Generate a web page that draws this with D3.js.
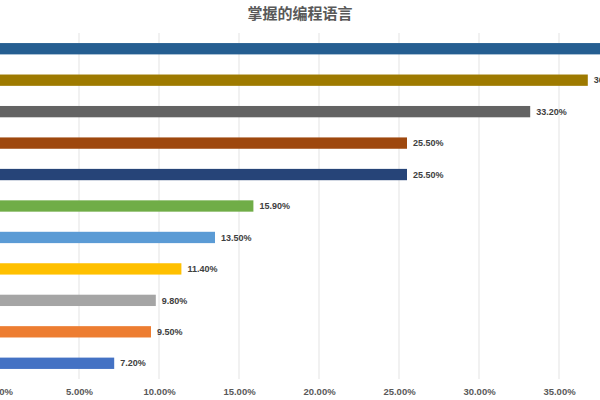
<!DOCTYPE html>
<html><head><meta charset="utf-8">
<script src="https://cdn.jsdelivr.net/npm/d3@7"></script>
<style>html,body{margin:0;padding:0;background:#fff;overflow:hidden}svg{display:block}</style>
</head><body>
<script>
const title = "掌握的编程语言";
// categories listed bottom to top (as in the original chart)
const categories = ["Swift","Ruby","Go","Objective-C","PHP","C#","JavaScript","Python","C++","C","Java"];
const values = [7.2, 9.5, 9.8, 11.4, 13.5, 15.9, 25.5, 25.5, 33.2, 36.8, 45.0];
const colors = ["#4472C4","#ED7D31","#A5A5A5","#FFC000","#5B9BD5","#70AD47","#264478","#9E480E","#636363","#9E7A00","#255E91"];
const tickValues = [0,5,10,15,20,25,30,35];

const W = 600, H = 400;
const svg = d3.select("body").append("svg").attr("width", W).attr("height", H);

const x = d3.scaleLinear().domain([0, 5]).range([-1, 79]);
const y = d3.scaleBand().domain(categories.slice().reverse()).range([33, 379]).paddingInner(0.64).paddingOuter(0.32);

svg.append("text").attr("x", 300).attr("y", 19).attr("text-anchor", "middle")
  .attr("font-family", "'Noto Sans CJK SC', sans-serif").attr("font-size", 15).attr("font-weight", 600)
  .attr("fill", "#595959").text(title);

// gridlines
svg.append("g").selectAll("line").data(tickValues).join("line")
  .attr("x1", d => x(d)).attr("x2", d => x(d)).attr("y1", 33).attr("y2", 379)
  .attr("stroke", "#e3e3e3").attr("stroke-width", 1);

// x axis labels
const xAxis = d3.axisBottom(x).tickValues(tickValues).tickFormat(d => d.toFixed(2) + "%").tickSize(0).tickPadding(8);
const gx = svg.append("g").attr("transform", "translate(0,380)").call(xAxis);
gx.select(".domain").remove();
gx.selectAll("text").attr("font-family", "'Liberation Sans', sans-serif").attr("font-size", 9.5)
  .attr("font-weight", 600).attr("fill", "#595959");

const data = categories.map((c, i) => ({c, v: values[i], col: colors[i]}));

svg.append("g").selectAll("rect").data(data).join("rect")
  .attr("x", x(0)).attr("y", d => y(d.c))
  .attr("width", d => x(d.v) - x(0)).attr("height", y.bandwidth())
  .attr("fill", d => d.col);

svg.append("g").selectAll("text").data(data).join("text")
  .attr("x", d => x(d.v) + 6).attr("y", d => y(d.c) + y.bandwidth() / 2)
  .attr("dy", "0.35em")
  .attr("font-family", "'Liberation Sans', sans-serif").attr("font-size", 9).attr("font-weight", 600)
  .attr("fill", "#404040").text(d => d.v.toFixed(2) + "%");
</script>
</body></html>
